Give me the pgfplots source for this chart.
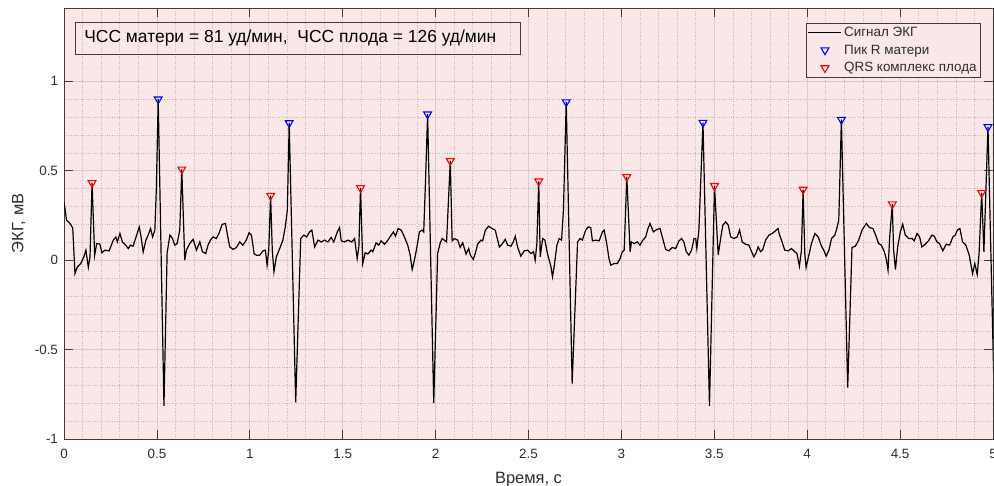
\documentclass[border=0pt]{standalone}
\usepackage{fontspec}
\setmainfont{Liberation Sans}
\usepackage{pgfplots}
\pgfplotsset{compat=1.18}
\usepackage{pgfplotstable}
\definecolor{bgpink}{RGB}{250,232,232}
\definecolor{gridmaj}{RGB}{218,203,203}
\definecolor{gridmin}{RGB}{200,182,182}
\definecolor{axcol}{RGB}{60,60,60}
\definecolor{labcol}{RGB}{45,45,45}
\pgfplotsset{
  lineleg/.style={legend image code/.code={\draw[##1] (0bp,0bp) -- (33bp,0bp);}},
  markleg/.style={legend image code/.code={\draw[##1] plot coordinates {(16.5bp,0bp)};}},
}

\pgfplotstableread{
t y
0.000 0.326
0.014 0.223
0.032 0.206
0.047 0.180
0.059 -0.075
0.072 -0.037
0.090 -0.019
0.107 0.019
0.118 0.056
0.131 -0.040
0.140 0.019
0.151 0.432
0.165 0.028
0.176 0.093
0.193 0.090
0.204 0.041
0.220 0.056
0.243 0.052
0.265 0.112
0.279 0.130
0.287 0.102
0.301 0.149
0.315 0.100
0.328 0.089
0.346 0.065
0.358 0.084
0.372 0.078
0.391 0.140
0.405 0.186
0.415 0.130
0.426 0.046
0.441 0.112
0.453 0.140
0.466 0.177
0.477 0.130
0.489 0.168
0.497 0.400
0.507 0.900
0.538 -0.815
0.555 0.040
0.570 0.140
0.584 0.121
0.596 0.084
0.609 0.093
0.623 0.168
0.634 0.508
0.650 0.000
0.659 0.056
0.677 0.093
0.695 0.116
0.713 0.056
0.731 0.102
0.745 0.047
0.763 0.037
0.775 0.084
0.788 0.112
0.802 0.130
0.820 0.121
0.834 0.149
0.851 0.200
0.869 0.205
0.880 0.140
0.892 0.074
0.910 0.060
0.928 0.071
0.946 0.102
0.963 0.084
0.981 0.112
0.996 0.153
1.009 0.140
1.023 0.037
1.035 0.028
1.053 0.028
1.071 0.052
1.084 0.056
1.093 -0.028
1.102 0.056
1.112 0.361
1.121 0.056
1.130 -0.065
1.143 0.019
1.161 0.065
1.178 0.112
1.191 0.186
1.202 0.280
1.212 0.767
1.247 -0.795
1.274 0.121
1.291 0.140
1.306 0.130
1.322 0.158
1.334 0.168
1.349 0.074
1.367 0.112
1.385 0.102
1.402 0.112
1.420 0.102
1.438 0.127
1.452 0.102
1.471 0.158
1.483 0.182
1.492 0.108
1.510 0.102
1.528 0.112
1.549 0.102
1.564 0.121
1.578 0.009
1.587 0.074
1.596 0.404
1.608 -0.019
1.621 0.041
1.635 0.035
1.653 0.056
1.662 0.047
1.680 0.097
1.694 0.084
1.707 0.108
1.725 0.089
1.743 0.112
1.761 0.140
1.773 0.158
1.784 0.134
1.798 0.177
1.815 0.168
1.832 0.130
1.850 0.084
1.863 0.028
1.874 -0.052
1.886 0.000
1.898 0.065
1.913 0.158
1.927 0.168
1.936 0.158
1.946 0.450
1.957 0.816
1.990 -0.800
2.011 0.037
2.024 0.093
2.035 0.121
2.047 0.112
2.059 0.102
2.079 0.555
2.089 0.108
2.101 0.121
2.119 0.112
2.132 0.071
2.146 0.097
2.164 0.034
2.178 0.065
2.187 0.028
2.203 0.004
2.214 0.040
2.226 0.089
2.244 0.112
2.253 0.108
2.268 0.168
2.285 0.190
2.304 0.177
2.321 0.168
2.343 0.074
2.357 0.089
2.375 0.116
2.388 0.084
2.405 0.078
2.418 0.102
2.429 0.134
2.441 0.074
2.459 0.022
2.477 0.052
2.495 0.056
2.513 0.037
2.527 0.047
2.536 0.000
2.545 0.093
2.555 0.441
2.563 0.019
2.576 0.121
2.588 0.112
2.602 0.037
2.621 -0.037
2.629 -0.093
2.638 -0.037
2.653 0.084
2.665 0.121
2.678 0.112
2.688 0.280
2.703 0.884
2.735 -0.690
2.764 0.102
2.778 0.121
2.790 0.112
2.808 0.168
2.821 0.186
2.835 0.182
2.844 0.108
2.862 0.112
2.880 0.108
2.898 0.158
2.907 0.168
2.921 0.093
2.934 0.004
2.943 -0.028
2.961 -0.019
2.978 -0.019
2.993 0.009
3.005 0.047
3.015 0.056
3.029 0.466
3.047 0.047
3.054 0.102
3.068 0.093
3.086 0.102
3.100 0.084
3.113 0.108
3.131 0.130
3.143 0.177
3.154 0.205
3.172 0.158
3.190 0.171
3.208 0.177
3.220 0.130
3.238 0.060
3.256 0.052
3.274 0.071
3.292 0.065
3.310 0.108
3.324 0.121
3.336 0.102
3.349 0.047
3.363 0.028
3.378 0.056
3.391 0.121
3.400 0.121
3.406 0.065
3.417 0.168
3.439 0.769
3.474 -0.815
3.501 0.415
3.521 0.028
3.534 0.121
3.546 0.196
3.561 0.214
3.575 0.196
3.588 0.130
3.606 0.121
3.623 0.130
3.636 0.168
3.650 0.102
3.668 0.089
3.686 0.084
3.701 0.047
3.713 0.019
3.725 0.041
3.736 0.074
3.749 0.047
3.761 0.060
3.776 0.112
3.794 0.140
3.811 0.149
3.829 0.164
3.843 0.177
3.850 0.145
3.865 0.102
3.879 0.056
3.897 0.052
3.915 0.065
3.933 0.047
3.945 0.037
3.958 -0.034
3.969 0.056
3.978 0.395
3.987 0.037
3.994 -0.041
4.009 0.028
4.023 0.093
4.041 0.149
4.059 0.130
4.077 0.078
4.089 0.056
4.102 0.022
4.117 0.056
4.131 0.121
4.149 0.140
4.157 0.168
4.170 0.224
4.184 0.786
4.218 -0.713
4.241 0.071
4.259 0.078
4.277 0.112
4.295 0.168
4.318 0.205
4.336 0.182
4.354 0.177
4.372 0.130
4.384 0.093
4.399 0.084
4.415 0.047
4.425 0.009
4.435 -0.056
4.444 0.130
4.458 0.313
4.465 0.056
4.475 -0.052
4.487 0.074
4.501 0.158
4.514 0.201
4.528 0.140
4.546 0.121
4.564 0.121
4.576 0.108
4.591 0.149
4.605 0.130
4.617 0.074
4.635 0.089
4.653 0.108
4.671 0.140
4.684 0.134
4.698 0.102
4.712 0.093
4.730 0.052
4.748 0.089
4.766 0.084
4.784 0.130
4.797 0.140
4.808 0.168
4.822 0.177
4.836 0.102
4.854 0.084
4.872 0.028
4.890 -0.075
4.902 -0.019
4.915 -0.080
4.925 0.037
4.939 0.376
4.951 0.047
4.973 0.745
5.006 -0.750
}\ecg

\pgfplotstableread{
t y
0.507 0.900
1.212 0.767
1.957 0.816
2.703 0.884
3.439 0.769
4.184 0.786
4.973 0.745
}\mpeaks

\pgfplotstableread{
t y
0.151 0.432
0.634 0.508
1.112 0.361
1.596 0.404
2.079 0.555
2.555 0.441
3.029 0.466
3.501 0.415
3.978 0.395
4.458 0.313
4.939 0.376
}\fpeaks

\begin{document}
\begin{tikzpicture}
\begin{axis}[
  scale only axis, width=929bp, height=431bp,
  xmin=0, xmax=5, ymin=-1, ymax=1.41,
  axis background/.style={fill=bgpink},
  xtick={0,0.5,1,1.5,2,2.5,3,3.5,4,4.5,5},
  ytick={-1,-0.5,0,0.5,1},
  minor x tick num=4, minor y tick num=4,
  grid=both,
  major grid style={draw=gridmaj, line width=0.7bp},
  minor grid style={draw=gridmin, dotted, line width=0.6bp},
  tick align=inside, major tick length=9bp, minor tick length=0pt,
  axis line style={draw=axcol, line width=0.8bp},
  major tick style={draw=axcol, line width=0.8bp},
  ticklabel style={font=\fontsize{13.5}{16}\selectfont, text=labcol},
  /pgf/number format/assume math mode=true,
  xticklabel style={yshift=-7bp},
  yticklabel style={xshift=-2.5bp},
  xlabel={Время, с}, ylabel={ЭКГ, мВ},
  xlabel style={at={(axis description cs:0.5,-0.1028)}, anchor=base, font=\fontsize{16.5}{19}\selectfont, text=labcol},
  ylabel style={at={(axis description cs:-0.0438,0.5)}, anchor=base, font=\fontsize{16.5}{19}\selectfont, text=labcol},
  legend cell align=left,
  legend style={at={(0.987,0.966)}, anchor=north east, draw=axcol, line width=0.6bp, fill=bgpink,
    font=\fontsize{13.5}{16}\selectfont, text=labcol, inner xsep=2bp, inner ysep=2bp, row sep=3bp},
]
\addplot[black, line width=1.2bp, lineleg] table[x=t,y=y] {\ecg};
\addlegendentry{Сигнал ЭКГ}
\addplot[only marks, mark=triangle, mark size=4.5bp, mark options={rotate=180, draw=blue, line width=1.1bp, fill=none}, markleg] table[x=t,y=y] {\mpeaks};
\addlegendentry{Пик R матери}
\addplot[only marks, mark=triangle, mark size=4.5bp, mark options={rotate=180, draw=red, line width=1.1bp, fill=none}, markleg] table[x=t,y=y] {\fpeaks};
\addlegendentry{QRS комплекс плода}
\node[draw=axcol, line width=0.8bp, anchor=north west, inner xsep=9bp, inner ysep=0bp, minimum height=32.6bp,
  font=\fontsize{17.5}{20}\selectfont, text=black] at (rel axis cs:0.0118,0.968)
  {\makebox[427bp][l]{ЧСС матери = 81 уд/мин,\ \ ЧСС плода = 126 уд/мин}};
\coordinate (BL) at (rel axis cs:0,0);
\coordinate (TR) at (rel axis cs:1,1);
\end{axis}
\pgfresetboundingbox
\path ([shift={(-64bp,-47bp)}]BL) rectangle ([shift={(1bp,8bp)}]TR);
\end{tikzpicture}
\end{document}
